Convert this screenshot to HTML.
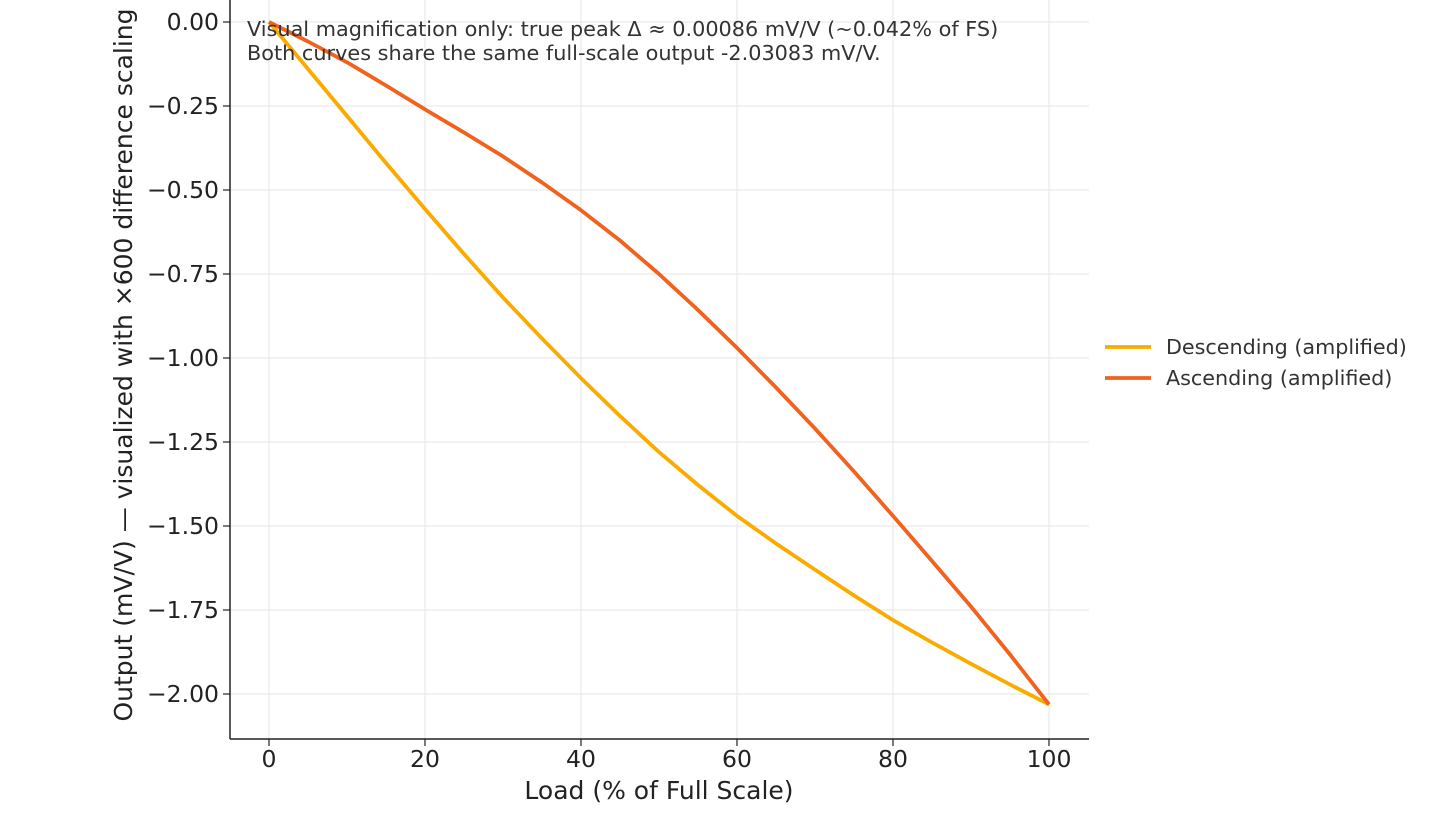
<!DOCTYPE html>
<html><head><style>body{margin:0;background:#fff}svg{display:block}</style></head>
<body>
<svg width="1430" height="819" xmlns="http://www.w3.org/2000/svg" font-family="DejaVu Sans, Liberation Sans, sans-serif">
<rect width="1430" height="819" fill="#fff"/>
<g stroke="#e6e6e6" stroke-width="1">
<line x1="269" y1="0" x2="269" y2="739"/><line x1="425" y1="0" x2="425" y2="739"/><line x1="581" y1="0" x2="581" y2="739"/><line x1="737" y1="0" x2="737" y2="739"/><line x1="893" y1="0" x2="893" y2="739"/><line x1="1049" y1="0" x2="1049" y2="739"/>
<line x1="230" y1="22" x2="1089" y2="22"/><line x1="230" y1="106" x2="1089" y2="106"/><line x1="230" y1="190" x2="1089" y2="190"/><line x1="230" y1="274" x2="1089" y2="274"/><line x1="230" y1="358" x2="1089" y2="358"/><line x1="230" y1="442" x2="1089" y2="442"/><line x1="230" y1="526" x2="1089" y2="526"/><line x1="230" y1="610" x2="1089" y2="610"/><line x1="230" y1="694" x2="1089" y2="694"/>
</g>
<polyline fill="none" stroke="#f9ab00" stroke-width="3.8" stroke-linejoin="round" points="269,22 308,69 347,116 386,163 425,209 464,254 503,297.5 542,338.5 581,378.2 620,416 659,452.1 698,485 737,515.9 776,543.5 815,569.7 854,595.5 893,620.1 932,642.5 971,663.8 1010,684.5 1049,704.4"/>
<polyline fill="none" stroke="#f0621e" stroke-width="3.8" stroke-linejoin="round" points="269,22 308,41.5 347,62.3 386,85.5 425,109.4 464,132.5 503,156.4 542,182.5 581,210.2 620,240.5 659,274 698,310 737,347.9 776,387.5 815,428.6 854,471.5 893,515.9 932,561 971,606.6 1010,654.5 1049,704.4"/>
<g stroke="#222" stroke-width="1.5"><line x1="230" y1="0" x2="230" y2="739"/><line x1="230" y1="739" x2="1089" y2="739"/></g>
<g stroke="#222" stroke-width="1.2">
<line x1="223" y1="22" x2="230" y2="22"/><line x1="223" y1="106" x2="230" y2="106"/><line x1="223" y1="190" x2="230" y2="190"/><line x1="223" y1="274" x2="230" y2="274"/><line x1="223" y1="358" x2="230" y2="358"/><line x1="223" y1="442" x2="230" y2="442"/><line x1="223" y1="526" x2="230" y2="526"/><line x1="223" y1="610" x2="230" y2="610"/><line x1="223" y1="694" x2="230" y2="694"/>
<line x1="269" y1="739" x2="269" y2="746"/><line x1="425" y1="739" x2="425" y2="746"/><line x1="581" y1="739" x2="581" y2="746"/><line x1="737" y1="739" x2="737" y2="746"/><line x1="893" y1="739" x2="893" y2="746"/><line x1="1049" y1="739" x2="1049" y2="746"/>
</g>
<g font-size="23.5" fill="#222" text-anchor="end">
<text x="219" y="30">0.00</text><text x="219" y="114">−0.25</text><text x="219" y="198">−0.50</text><text x="219" y="282">−0.75</text><text x="219" y="366">−1.00</text><text x="219" y="450">−1.25</text><text x="219" y="534">−1.50</text><text x="219" y="618">−1.75</text><text x="219" y="702">−2.00</text>
</g>
<g font-size="23.5" fill="#222" text-anchor="middle">
<text x="269" y="767">0</text><text x="425" y="767">20</text><text x="581" y="767">40</text><text x="737" y="767">60</text><text x="893" y="767">80</text><text x="1049" y="767">100</text>
<text x="659" y="799" font-size="25">Load (% of Full Scale)</text>
<text transform="translate(132,365) rotate(-90)" font-size="25">Output (mV/V) — visualized with ×600 difference scaling</text>
</g>
<g font-size="20.8" fill="#333">
<text x="247" y="36">Visual magnification only: true peak Δ ≈ 0.00086 mV/V (~0.042% of FS)</text>
<text x="247" y="60">Both curves share the same full-scale output -2.03083 mV/V.</text>
</g>
<line x1="1105" y1="347" x2="1151" y2="347" stroke="#f9ab00" stroke-width="3.8"/>
<line x1="1105" y1="378" x2="1151" y2="378" stroke="#f0621e" stroke-width="3.8"/>
<g font-size="20.7" fill="#333">
<text x="1166" y="354">Descending (amplified)</text>
<text x="1166" y="385">Ascending (amplified)</text>
</g>
</svg>
</body></html>
